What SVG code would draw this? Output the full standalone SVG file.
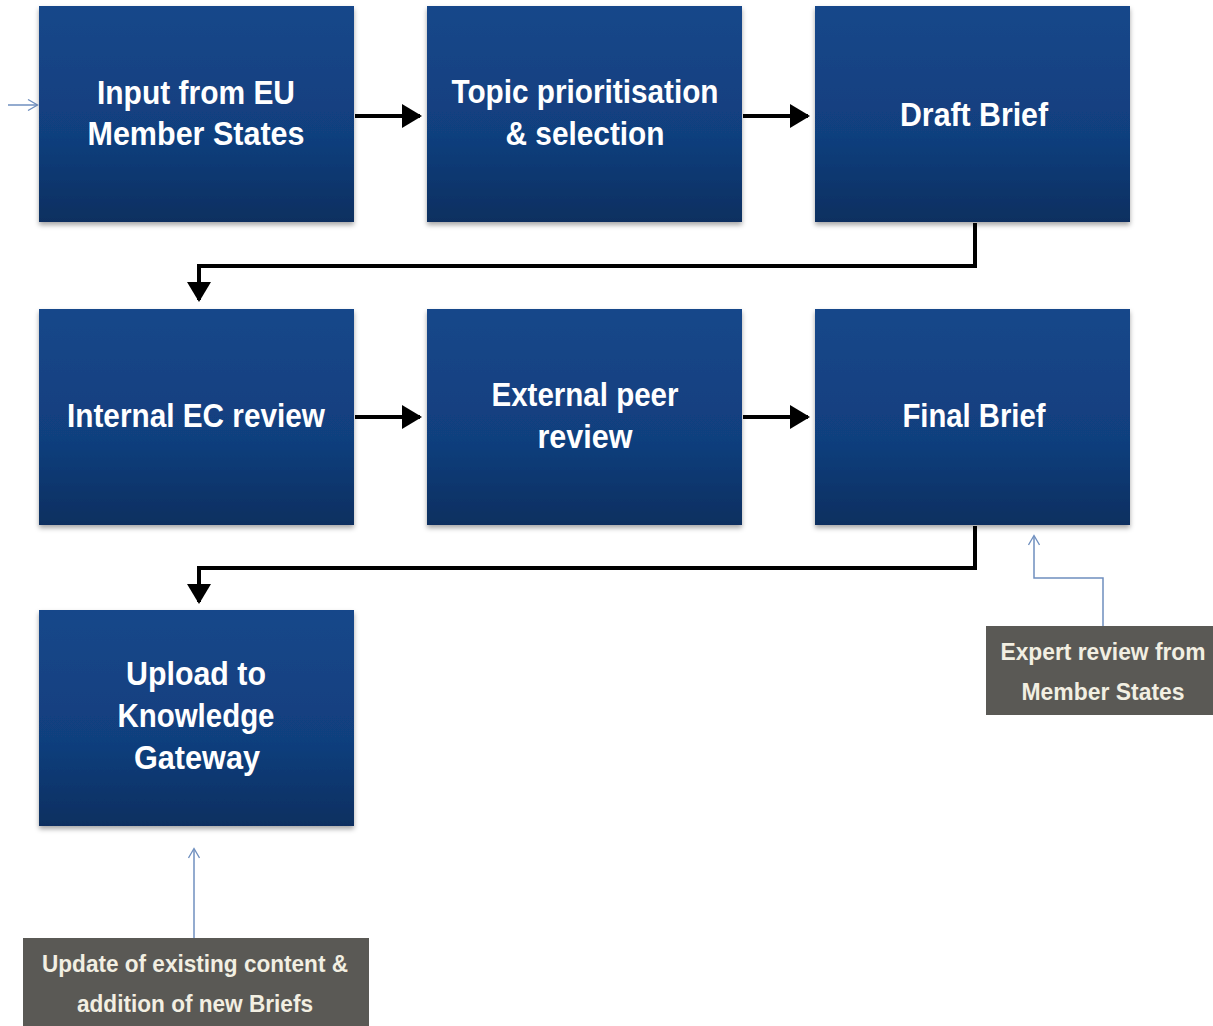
<svg xmlns="http://www.w3.org/2000/svg" width="1213" height="1026" viewBox="0 0 1213 1026">
<style>
.box{fill:url(#g);filter:url(#sh)}
.t{font-family:"Liberation Sans",Arial,sans-serif;font-weight:bold;font-size:34px;fill:#ffffff;text-anchor:middle}
.gbox{fill:#5a5955}
.gt{font-family:"Liberation Sans",Arial,sans-serif;font-weight:bold;font-size:23px;fill:#f2efe2;text-anchor:middle}
.conn{fill:none;stroke:#000;stroke-width:4}
.blue{fill:none;stroke:#6f8fbf;stroke-width:1.5}
</style>
<defs>
<linearGradient id="g" x1="0" y1="0" x2="0" y2="1">
<stop offset="0" stop-color="#16478a"/>
<stop offset="0.6" stop-color="#113f7e"/>
<stop offset="1" stop-color="#0c2f60"/>
</linearGradient>
<filter id="sh" x="-5%" y="-5%" width="110%" height="115%">
<feDropShadow dx="0" dy="3" stdDeviation="2.5" flood-color="#000" flood-opacity="0.35"/>
</filter>
<marker id="ah" markerWidth="5" markerHeight="6" refX="4.5" refY="3" orient="auto" markerUnits="strokeWidth">
<path d="M0,0 L5,3 L0,6 Z" fill="#000"/>
</marker>
<marker id="oa" markerWidth="12" markerHeight="12" refX="10" refY="6" orient="auto" markerUnits="userSpaceOnUse">
<path d="M1,0.5 L10.5,6 L1,11.5" fill="none" stroke="#6f8fbf" stroke-width="1.3"/>
</marker>
</defs>
<rect width="1213" height="1026" fill="#fff"/>
<g id="connectors">
<line class="conn" x1="355" y1="116" x2="420" y2="116" marker-end="url(#ah)"/>
<line class="conn" x1="743" y1="116" x2="808" y2="116" marker-end="url(#ah)"/>
<polyline class="conn" points="975,223 975,266 199,266 199,300" marker-end="url(#ah)"/>
<line class="conn" x1="355" y1="417" x2="420" y2="417" marker-end="url(#ah)"/>
<line class="conn" x1="743" y1="417" x2="808" y2="417" marker-end="url(#ah)"/>
<polyline class="conn" points="975,526 975,568 199,568 199,602" marker-end="url(#ah)"/>
<line class="blue" x1="8" y1="105" x2="37" y2="105" marker-end="url(#oa)"/>
<polyline class="blue" points="1103,626 1103,578 1034,578 1034,536" marker-end="url(#oa)"/>
<line class="blue" x1="194" y1="938" x2="194" y2="849" marker-end="url(#oa)"/>
</g>
<g id="n1"><rect class="box" x="39" y="6" width="315" height="216"/>
<text class="t" x="196" y="104" textLength="198" lengthAdjust="spacingAndGlyphs">Input from EU</text>
<text class="t" x="196" y="145" textLength="217" lengthAdjust="spacingAndGlyphs">Member States</text></g>
<g id="n2"><rect class="box" x="427" y="6" width="315" height="216"/>
<text class="t" x="585" y="103" textLength="267" lengthAdjust="spacingAndGlyphs">Topic prioritisation</text>
<text class="t" x="585" y="145" textLength="159" lengthAdjust="spacingAndGlyphs">&amp; selection</text></g>
<g id="n3"><rect class="box" x="815" y="6" width="315" height="216"/>
<text class="t" x="974" y="126" textLength="148" lengthAdjust="spacingAndGlyphs">Draft Brief</text></g>
<g id="n4"><rect class="box" x="39" y="309" width="315" height="216"/>
<text class="t" x="196" y="427" textLength="258" lengthAdjust="spacingAndGlyphs">Internal EC review</text></g>
<g id="n5"><rect class="box" x="427" y="309" width="315" height="216"/>
<text class="t" x="585" y="406" textLength="187" lengthAdjust="spacingAndGlyphs">External peer</text>
<text class="t" x="585" y="448" textLength="95" lengthAdjust="spacingAndGlyphs">review</text></g>
<g id="n6"><rect class="box" x="815" y="309" width="315" height="216"/>
<text class="t" x="974" y="427" textLength="143" lengthAdjust="spacingAndGlyphs">Final Brief</text></g>
<g id="n7"><rect class="box" x="39" y="610" width="315" height="216"/>
<text class="t" x="196" y="685" textLength="140" lengthAdjust="spacingAndGlyphs">Upload to</text>
<text class="t" x="196" y="727" textLength="157" lengthAdjust="spacingAndGlyphs">Knowledge</text>
<text class="t" x="197" y="769" textLength="126" lengthAdjust="spacingAndGlyphs">Gateway</text></g>
<g id="n8"><rect class="gbox" x="986" y="626" width="227" height="89"/>
<text class="gt" x="1103" y="660" textLength="205" lengthAdjust="spacingAndGlyphs">Expert review from</text>
<text class="gt" x="1103" y="700" textLength="163" lengthAdjust="spacingAndGlyphs">Member States</text></g>
<g id="n9"><rect class="gbox" x="23" y="938" width="346" height="88"/>
<text class="gt" x="195" y="972" textLength="306" lengthAdjust="spacingAndGlyphs">Update of existing content &amp;</text>
<text class="gt" x="195" y="1012" textLength="236" lengthAdjust="spacingAndGlyphs">addition of new Briefs</text></g>
</svg>
